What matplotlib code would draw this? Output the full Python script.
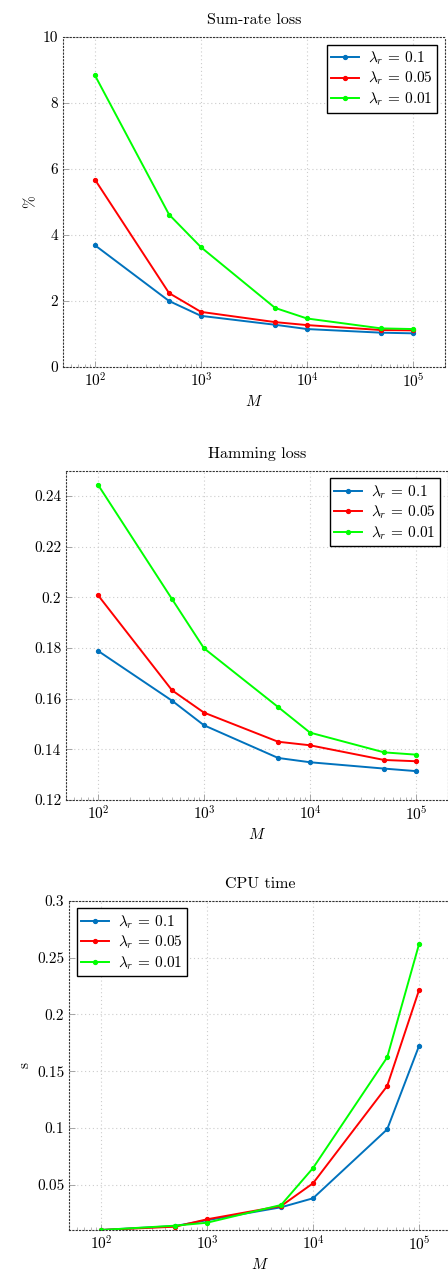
import numpy as np
import matplotlib
matplotlib.use('Agg')
import matplotlib.pyplot as plt
from matplotlib.ticker import FuncFormatter, LogLocator

# pgfplots-ish look: Computer Modern text
plt.rcParams['font.family'] = 'cmr10'
plt.rcParams['mathtext.fontset'] = 'cm'
plt.rcParams['axes.formatter.use_mathtext'] = True

M = [100, 500, 1000, 5000, 10000, 50000, 100000]
lambdas = ['0.1', '0.05', '0.01']
colors = ['#0072BD', '#FF0000', '#00FF00']

# Sum-rate loss (%)
sumrate_01 = [3.69, 2.00, 1.55, 1.28, 1.15, 1.04, 1.02]
sumrate_005 = [5.68, 2.24, 1.67, 1.36, 1.27, 1.12, 1.11]
sumrate_001 = [8.84, 4.62, 3.63, 1.79, 1.47, 1.17, 1.15]

# Hamming loss
hamming_01 = [0.1789, 0.1592, 0.1495, 0.1366, 0.1349, 0.1324, 0.1314]
hamming_005 = [0.2009, 0.1633, 0.1545, 0.1430, 0.1416, 0.1358, 0.1353]
hamming_001 = [0.2445, 0.1993, 0.1799, 0.1567, 0.1466, 0.1388, 0.1379]

# CPU time (s)
cpu_01 = [0.0104, 0.0139, 0.0190, 0.0304, 0.0383, 0.0989, 0.1724]
cpu_005 = [0.0104, 0.0133, 0.0198, 0.0315, 0.0515, 0.1370, 0.2215]
cpu_001 = [0.0104, 0.0142, 0.0168, 0.0324, 0.0649, 0.1622, 0.2619]

W, H = 448, 1272
fig = plt.figure(figsize=(W / 100, H / 100), dpi=100)


def make_axes(left, top, bottom):
    return fig.add_axes([left / W, 1 - bottom / H, 382 / W, (bottom - top) / H])


def style(ax, title, ylabel, ylim, yticks, legend_loc):
    ax.set_xscale('log')
    ax.set_xlim(50, 2e5)
    ax.set_ylim(*ylim)
    ax.set_yticks(yticks)
    ax.yaxis.set_major_formatter(FuncFormatter(lambda v, p: '%g' % v))
    ax.xaxis.set_minor_locator(LogLocator(base=10, subs=np.arange(2, 10)))
    ax.grid(True, which='major', linestyle=(0, (1, 2.5)), color='#cccccc', linewidth=0.8)
    for sp in ax.spines.values():
        sp.set_linestyle((0, (1, 2)))
        sp.set_linewidth(0.8)
        sp.set_color('#333333')
    ax.tick_params(which='both', direction='in', color='#999999', labelsize=11)
    ax.tick_params(which='major', length=4, width=0.6)
    ax.tick_params(which='minor', length=2, width=0.5)
    ax.set_title(title, fontsize=11.5, pad=9)
    ax.set_xlabel(r'$M$', fontsize=11, labelpad=3)
    if ylabel:
        ax.set_ylabel(ylabel, fontsize=11)
    leg = ax.legend(loc=legend_loc, fontsize=11, fancybox=False, framealpha=1,
                    edgecolor='black', handlelength=1.8, handletextpad=0.6,
                    borderpad=0.3, labelspacing=0.2, borderaxespad=0.5)
    leg.get_frame().set_linewidth(1.0)


def draw(ax, series):
    for vals, lam, c in zip(series, lambdas, colors):
        ax.plot(M, vals, color=c, marker='o', markersize=2.8, linewidth=1.4,
                label=r'$\lambda_r\,=\,%s$' % lam)


ax1 = make_axes(63, 37, 367)
draw(ax1, [sumrate_01, sumrate_005, sumrate_001])
style(ax1, 'Sum-rate loss', '%', (0, 10), [0, 2, 4, 6, 8, 10], 'upper right')

ax2 = make_axes(66, 470.7, 800)
draw(ax2, [hamming_01, hamming_005, hamming_001])
style(ax2, 'Hamming loss', None, (0.12, 0.25),
      [0.12, 0.14, 0.16, 0.18, 0.2, 0.22, 0.24], 'upper right')

ax3 = make_axes(69, 900.7, 1230)
draw(ax3, [cpu_01, cpu_005, cpu_001])
style(ax3, 'CPU time', 's', (0.0104, 0.3),
      [0.05, 0.1, 0.15, 0.2, 0.25, 0.3], 'upper left')

fig.savefig('out.png', dpi=100)
